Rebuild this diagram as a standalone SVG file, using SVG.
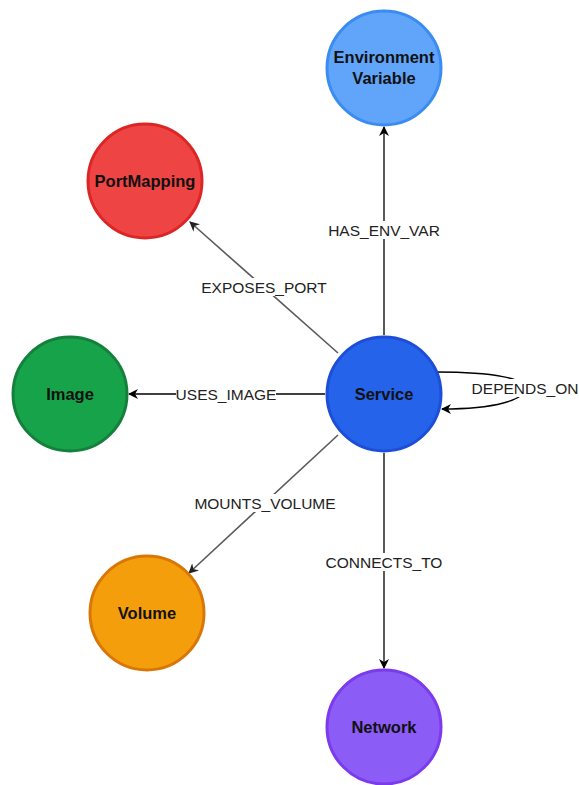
<svg xmlns="http://www.w3.org/2000/svg" width="579" height="785" viewBox="0 0 579 785">
<defs>
<marker id="arrB" viewBox="0 0 10 10" refX="9" refY="5" markerWidth="10" markerHeight="10" markerUnits="userSpaceOnUse" orient="auto">
<path d="M0,0 L10,5 L0,10 L3,5 Z" fill="#000"/>
</marker>
<marker id="arrG" viewBox="0 0 10 10" refX="9" refY="5" markerWidth="10" markerHeight="10" markerUnits="userSpaceOnUse" orient="auto">
<path d="M0,0 L10,5 L0,10 L3,5 Z" fill="#222"/>
</marker>
</defs>
<style>
.node circle{stroke-width:3}
.nl{font-family:"Liberation Sans",Arial,sans-serif;font-size:16.5px;font-weight:bold;fill:#111;text-anchor:middle;dominant-baseline:central}
.el{font-family:"Liberation Sans",Arial,sans-serif;font-size:15.5px;fill:#222;text-anchor:middle;dominant-baseline:central}
.lbg{fill:#fff}
.e{fill:none;stroke-width:1.3}
.eb{stroke:#000;marker-end:url(#arrB)}
.eg{stroke:#5a5a5a;stroke-width:1.6;marker-end:url(#arrG)}
</style>
<rect width="579" height="785" fill="#fff"/>
<g id="connectors">
<g id="e-has-env"><path class="e eb" d="M384,335 L384,127"/><rect class="lbg" x="326" y="221" width="116" height="18"/><text class="el" x="384" y="230">HAS_ENV_VAR</text></g>
<g id="e-exposes"><path class="e eg" d="M338,353 L190,222"/><rect class="lbg" x="200" y="278" width="128" height="18"/><text class="el" x="264" y="287">EXPOSES_PORT</text></g>
<g id="e-uses-image"><path class="e eb" d="M325,394 L129,394"/><rect class="lbg" x="176" y="385" width="100" height="18"/><text class="el" x="226" y="394">USES_IMAGE</text></g>
<g id="e-mounts"><path class="e eg" d="M338,435 L189,573"/><rect class="lbg" x="194" y="494" width="142" height="18"/><text class="el" x="265" y="503">MOUNTS_VOLUME</text></g>
<g id="e-connects"><path class="e eb" d="M384,453 L384,668"/><rect class="lbg" x="324" y="553" width="118" height="18"/><text class="el" x="384" y="562">CONNECTS_TO</text></g>
<g id="e-depends"><path class="e eb" d="M437,372 C495,372 525,379 525,388 C525,400 495,409 442,409"/><rect class="lbg" x="471" y="379" width="108" height="18"/><text class="el" x="525" y="388">DEPENDS_ON</text></g>
</g>
<g id="n-env" class="node"><circle cx="384" cy="68" r="57" fill="#60a5fa" stroke="#3b8cf0"/><text class="nl" x="384" y="57">Environment</text><text class="nl" x="384" y="78">Variable</text></g>
<g id="n-port" class="node"><circle cx="145" cy="181" r="57" fill="#ef4444" stroke="#dc2626"/><text class="nl" x="145" y="181">PortMapping</text></g>
<g id="n-image" class="node"><circle cx="70" cy="394" r="57" fill="#16a34a" stroke="#15803d"/><text class="nl" x="70" y="394">Image</text></g>
<g id="n-service" class="node"><circle cx="384" cy="394" r="57" fill="#2563eb" stroke="#1d4ed8"/><text class="nl" x="384" y="394">Service</text></g>
<g id="n-volume" class="node"><circle cx="147" cy="613" r="57" fill="#f59e0b" stroke="#d97706"/><text class="nl" x="147" y="613">Volume</text></g>
<g id="n-network" class="node"><circle cx="384" cy="727" r="57" fill="#8b5cf6" stroke="#7c3aed"/><text class="nl" x="384" y="727">Network</text></g>
</svg>
